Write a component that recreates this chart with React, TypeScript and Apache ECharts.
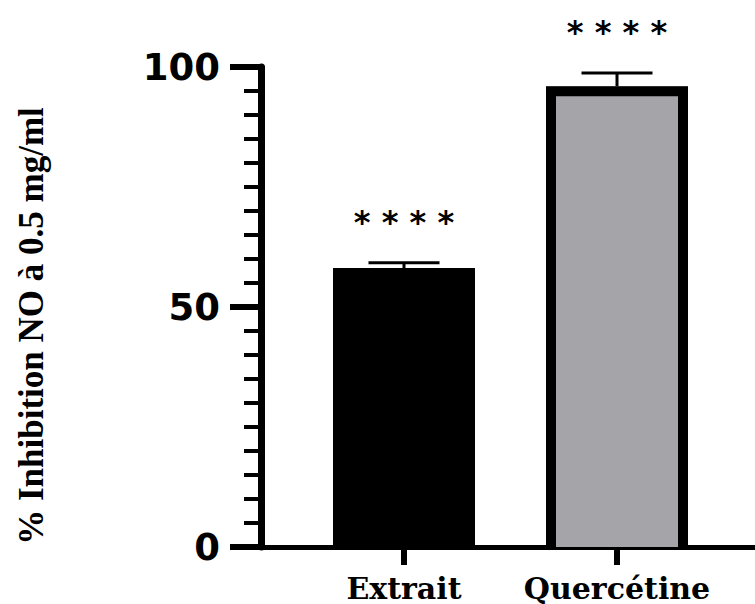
import React, { useEffect, useRef } from "react";
import * as echarts from "echarts";

const categories = ["Extrait", "Quercétine"];
const means = [58.1, 96.0];
const errors = [1.1, 2.75];
const significance = ["* * * *", "* * * *"];
const barColors = ["#000000", "#a5a4a9"];
const outlined = [false, true];
const yTicks = { min: 0, max: 100, interval: 50 };

export default function App() {
  const ref = useRef<HTMLDivElement>(null);
  useEffect(() => {
    if (!ref.current) return;
    const chart = echarts.init(ref.current, null, { renderer: "svg" });
    const positions = categories.map((_, i) => i + 1);
    const BAR_W = 142;
    const BORDER = 10;
    const option = {
      animation: false,
      backgroundColor: "#ffffff",
      grid: { left: 261, right: 0, top: 67, bottom: 57, containLabel: false },
      xAxis: {
        type: "value",
        min: 1 - 143 / 213,
        max: 2 + 138 / 213,
        splitLine: { show: false },
        axisLine: { show: true, lineStyle: { color: "#000", width: 5 } },
        axisTick: {
          show: true,
          customValues: positions,
          length: 18,
          lineStyle: { color: "#000", width: 6 },
        },
        axisLabel: {
          show: true,
          customValues: positions,
          formatter: (v: number) => categories[Math.round(v) - 1] ?? "",
          margin: 26,
          color: "#000",
          fontFamily: "DejaVu Serif",
          fontWeight: "bold",
          fontSize: 30,
        },
      },
      yAxis: {
        type: "value",
        min: yTicks.min,
        max: yTicks.max,
        interval: yTicks.interval,
        splitLine: { show: false },
        axisLine: { show: true, lineStyle: { color: "#000", width: 7 } },
        axisTick: { show: true, length: 31, lineStyle: { color: "#000", width: 6 } },
        minorTick: { show: true, splitNumber: 10, length: 17, lineStyle: { color: "#000", width: 4 } },
        axisLabel: {
          margin: 41,
          color: "#000",
          fontFamily: "DejaVu Sans",
          fontWeight: 900,
          fontSize: 37,
        },
      },
      graphic: [
        {
          type: "text",
          x: 31,
          y: 326,
          rotation: Math.PI / 2,
          style: {
            text: "% Inhibition NO à 0.5 mg/ml",
            align: "center",
            verticalAlign: "middle",
            fill: "#000",
            fontFamily: "Liberation Serif",
            fontWeight: "bold",
            fontSize: 35,
          },
        },
      ],
      series: [
        {
          type: "bar",
          z: 2,
          barWidth: BAR_W,
          data: positions.map((p, i) => ({
            value: [p, means[i]],
            itemStyle: { color: barColors[i] },
          })),
        },
        {
          type: "custom",
          z: 5,
          clip: false,
          data: positions.map((p, i) => [p, means[i], means[i] + errors[i], i]),
          renderItem: (params: any, api: any) => {
            const x = api.value(0);
            const base = api.coord([x, api.value(1)]);
            const top = api.coord([x, api.value(2)]);
            const zero = api.coord([x, 0]);
            const idx = api.value(3);
            const children: any[] = [];
            const half = BAR_W / 2 - BORDER / 2;
            if (outlined[idx]) {
              children.push({
                type: "polyline",
                shape: {
                  points: [
                    [base[0] - half, zero[1]],
                    [base[0] - half, base[1] + BORDER / 2],
                    [base[0] + half, base[1] + BORDER / 2],
                    [base[0] + half, zero[1]],
                  ],
                },
                style: { stroke: "#000", lineWidth: BORDER, lineJoin: "miter", fill: null },
              });
            }
            children.push(
              {
                type: "line",
                shape: { x1: base[0], y1: base[1], x2: top[0], y2: top[1] },
                style: { stroke: "#000", lineWidth: 3 },
              },
              {
                type: "line",
                shape: { x1: top[0] - 35.5, y1: top[1], x2: top[0] + 35.5, y2: top[1] },
                style: { stroke: "#000", lineWidth: 3 },
              },
              {
                type: "text",
                x: top[0],
                y: top[1] - 41,
                style: {
                  text: significance[idx],
                  align: "center",
                  verticalAlign: "middle",
                  fill: "#000",
                  fontFamily: "DejaVu Sans",
                  fontWeight: "bold",
                  fontSize: 32,
                },
              }
            );
            return { type: "group", children };
          },
        },
      ],
    };
    chart.setOption(option);
    return () => chart.dispose();
  }, []);
  return (
    <div
      ref={ref}
      style={{ position: "absolute", left: 0, top: 0, width: 755, height: 604 }}
    />
  );
}
